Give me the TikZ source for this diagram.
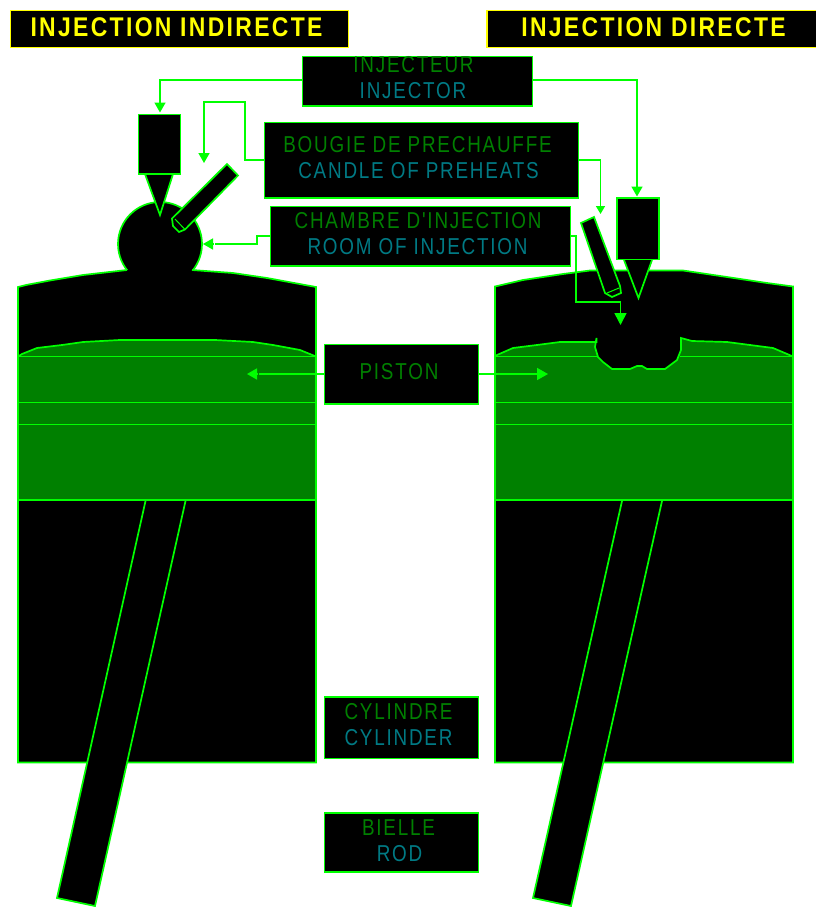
\documentclass[tikz,border=0pt]{standalone}
\usepackage{fontspec}
\setmainfont{Liberation Sans}
\newfontfamily\lblfont[LetterSpace=7.8,FakeStretch=0.82]{Liberation Sans}
\newfontfamily\ttlfont[LetterSpace=8.6,FakeStretch=0.85]{Liberation Sans}
\definecolor{lime}{RGB}{0,255,0}
\definecolor{darkgr}{RGB}{0,128,0}
\definecolor{lblgr}{RGB}{0,128,0}
\definecolor{lblbl}{RGB}{0,122,132}
\definecolor{ttl}{RGB}{255,255,0}
\usetikzlibrary{arrows.meta}
\tikzset{
  x=1pt,y=-1pt,
  ln/.style={draw=lime,line width=1.7pt,line join=miter},
  blk/.style={ln,fill=black},
  pst/.style={ln,fill=darkgr},
  conn/.style={draw=lime,line width=1.6pt,-{Triangle[length=10pt,width=11pt,fill=lime]}},
  wire/.style={draw=lime,line width=1.6pt},
  lblbox/.style={draw=lime,line width=1.7pt,fill=black,inner sep=0pt,outer sep=0pt,anchor=north west},
  titlebox/.style={draw=ttl,line width=1.7pt,fill=black,inner sep=0pt,outer sep=0pt,anchor=north west},
  fr/.style={font=\lblfont\fontsize{23}{25}\selectfont,text=lblgr,inner sep=0pt},
  en/.style={font=\lblfont\fontsize{23}{25}\selectfont,text=lblbl,inner sep=0pt},
  tt/.style={font=\ttlfont\bfseries\fontsize{27}{29}\selectfont,text=ttl,inner sep=0pt}
}
\begin{document}
\begin{tikzpicture}
\useasboundingbox (0,0) rectangle (816,907);
\fill[white] (0,0) rectangle (816,907);
% titles
\node[titlebox,minimum width=338pt,minimum height=37pt] (t1) at (10.5,10.5) {};
\node[tt] at (176.5,27) {INJECTION INDIRECTE};
\node[titlebox,minimum width=340pt,minimum height=37pt] (t2) at (487,10.5) {};
\node[tt] at (653.5,27) {INJECTION DIRECTE};
% LEFT cylinder
\draw[blk] (160,244) circle[radius=42];
\draw[blk] (127,270) -- (83,275) -- (50,280.5) -- (26,285) -- (18,287) -- (18,762.5) -- (316,762.5) -- (316,287) -- (267,278) -- (233,273) -- (192,270);
% piston left
\draw[pst] (18,500) -- (18,356.5) -- (22,354) -- (37,348) -- (62,345) -- (83,342) -- (120,340) -- (215,340) -- (253,342) -- (273,345) -- (300,350) -- (316,356.5) -- (316,500) -- cycle;
\draw[ln] (18,356.5) -- (316,356.5) (18,402.5) -- (316,402.5) (18,424.5) -- (316,424.5);
% rod left
\draw[blk] (145.5,501) -- (57,898) -- (95,906) -- (185.5,501);
% injector left
\draw[blk] (145,174) -- (160,215) -- (173,174);
\node[blk,minimum width=42pt,minimum height=59.5pt,inner sep=0pt,outer sep=0pt,anchor=north west] (injl) at (138.5,114.5) {};
% plug left
\draw[blk] (172,218.5) -- (227,164) -- (238,175.5) -- (185,229.5) -- (179,232) -- (173,226) -- cycle;
\draw[draw=lime,line width=1pt] (175,219) -- (185,229.5);
% RIGHT cylinder
\draw[blk] (495,762.5) -- (495,286.5) -- (523,280) -- (563,274) -- (590,270.5) -- (683,270.5) -- (727,277) -- (767,283) -- (793,286.5) -- (793,762.5) -- cycle;
% piston right
\draw[pst] (495,500) -- (495,356.5) -- (497,355) -- (513,348) -- (537,345) -- (560,342) -- (596.5,342) -- (596.5,338) -- (595,347) -- (598,357) -- (603,362) -- (612,369) -- (630,369) -- (637,366) -- (642,366) -- (647,369) -- (665,369) -- (677,360) -- (681,350) -- (681,338) -- (692,341) -- (727,342) -- (750,345) -- (773,348) -- (793,356.5) -- (793,500) -- cycle;
\draw[ln] (495,356.5) -- (598,356.5) (680,356.5) -- (793,356.5) (495,402.5) -- (793,402.5) (495,424.5) -- (793,424.5);
% rod right
\draw[blk] (622,501) -- (533,898) -- (571,906) -- (662,501);
% injector right
\draw[blk] (624,260) -- (638.5,298) -- (652,260);
\node[blk,minimum width=42pt,minimum height=61.5pt,inner sep=0pt,outer sep=0pt,anchor=north west] (injr) at (617,198) {};
% plug right
\draw[blk] (581,223) -- (594,217) -- (620,286) -- (621,293) -- (612,297) -- (605,293) -- cycle;
\draw[draw=lime,line width=1pt] (607,293) -- (619,288);
% labels
\node[lblbox,minimum width=230pt,minimum height=49.5pt] (inj) at (302.5,56.5) {};
\node[fr] at (413.5,65) {INJECTEUR};
\node[en] at (413,91) {INJECTOR};
\node[lblbox,minimum width=314pt,minimum height=75.5pt] (bou) at (264.5,122.5) {};
\node[fr] at (417.5,145) {BOUGIE DE PRECHAUFFE};
\node[en] at (418.5,171) {CANDLE OF PREHEATS};
\node[lblbox,minimum width=300pt,minimum height=59.5pt] (cha) at (270.5,206.5) {};
\node[fr] at (418,221) {CHAMBRE D'INJECTION};
\node[en] at (417.5,247) {ROOM OF INJECTION};
\node[lblbox,minimum width=154pt,minimum height=59.5pt] (pis) at (324.5,344.5) {};
\node[fr] at (399,372) {PISTON};
\node[lblbox,minimum width=154pt,minimum height=61.5pt] (cyl) at (324.5,697) {};
\node[fr] at (398.5,712) {CYLINDRE};
\node[en] at (398.5,738) {CYLINDER};
\node[lblbox,minimum width=154pt,minimum height=59pt] (bie) at (324.5,813) {};
\node[fr] at (398.5,828) {BIELLE};
\node[en] at (399.5,854) {ROD};
% connectors
\coordinate (p1) at (204,163);
\coordinate (p2) at (600.5,214);
\coordinate (p3) at (203,244);
\coordinate (p3a) at (213,244);
\coordinate (p3b) at (214.5,244);
\coordinate (p4) at (620.5,325);
\coordinate (p5) at (247,374);
\coordinate (p5a) at (257,374);
\coordinate (p5b) at (259,374);
\coordinate (p6) at (548,374);
\draw[conn] (inj.west |- 0,80) -- (160,80) -- (160,112.5);
\draw[conn] (inj.east |- 0,80) -- (637,80) -- (637,196.5);
\draw[conn] (bou.west |- 0,160) -- (245,160) -- (245,102) -- (204,102) -- (p1);
\draw[conn,-{Triangle[length=8pt,width=9pt,fill=lime]}] (bou.east |- 0,160) -- (600.5,160) -- (p2);
\draw[wire] (cha.west |- 0,236) -- (257,236) -- (257,244) -- (p3b);
\draw[conn] (p3a) -- (p3);
\draw[conn,-{Triangle[length=12pt,width=12pt,fill=lime]}] (cha.east |- 0,236) -- (576,236) -- (576,302) -- (620.5,302) -- (p4);
\draw[wire] (pis.west |- 0,374) -- (p5b);
\draw[conn] (p5a) -- (p5);
\draw[conn,-{Triangle[length=11pt,width=12pt,fill=lime]}] (pis.east |- 0,374) -- (p6);
\end{tikzpicture}
\end{document}
